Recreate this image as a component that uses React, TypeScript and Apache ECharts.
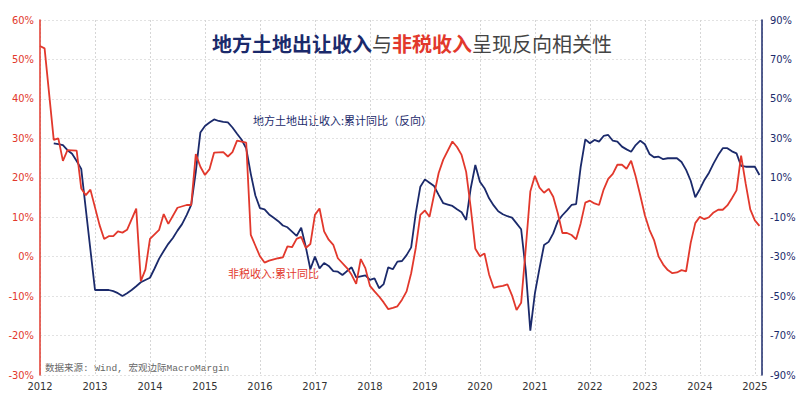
import React, { useEffect, useRef } from "react";
import * as echarts from "echarts";

// 非税收入：累计同比 (left axis, %)
const redMonths = [
  "2012-01","2012-02","2012-04","2012-05","2012-06","2012-07","2012-09","2012-10","2012-11","2012-12",
  "2013-02","2013-03","2013-04","2013-05","2013-06","2013-07","2013-08","2013-10","2013-11","2013-12",
  "2014-01","2014-03","2014-04","2014-05","2014-07","2014-09","2014-10","2014-11","2014-12",
  "2015-01","2015-02","2015-03","2015-05","2015-06","2015-07","2015-08","2015-10","2015-11",
  "2016-01","2016-02","2016-03","2016-05","2016-06","2016-07","2016-08","2016-09","2016-10","2016-11","2016-12",
  "2017-01","2017-02","2017-03","2017-04","2017-05","2017-06","2017-08","2017-09","2017-10","2017-11","2017-12",
  "2018-01","2018-02","2018-03","2018-04","2018-05","2018-06","2018-07","2018-08","2018-09","2018-10","2018-11","2018-12",
  "2019-01","2019-02","2019-03","2019-04","2019-05","2019-07","2019-08","2019-09","2019-10","2019-11","2019-12",
  "2020-01","2020-02","2020-03","2020-04","2020-05","2020-06","2020-07","2020-08","2020-09","2020-10","2020-11","2020-12",
  "2021-01","2021-02","2021-03","2021-04","2021-05","2021-06","2021-07","2021-08","2021-09","2021-10","2021-11","2021-12",
  "2022-01","2022-02","2022-03","2022-04","2022-05","2022-06","2022-07","2022-08","2022-09","2022-10","2022-11","2022-12",
  "2023-01","2023-02","2023-03","2023-04","2023-05","2023-06","2023-07","2023-08","2023-09","2023-10","2023-11","2023-12",
  "2024-01","2024-02","2024-03","2024-04","2024-05","2024-06","2024-07","2024-08","2024-09","2024-10","2024-11","2024-12",
  "2025-01","2025-02",
];
const redValues = [
  53.4, 52.8, 29.6, 30.0, 24.3, 27.0, 26.9, 17.3, 15.6, 17.0,
  8.0, 4.5, 5.2, 5.2, 6.4, 6.1, 6.8, 12.2, -6.2, -3.3,
  4.5, 6.8, 10.8, 8.3, 12.4, 13.1, 13.1, 26.0, 22.8,
  20.7, 22.2, 26.4, 26.5, 25.4, 26.5, 29.4, 28.9, 5.5,
  0.1, -1.5, -1.0, -0.4, -0.2, 2.6, 2.4, 4.5, 5.0, 2.2, 3.2,
  10.6, 12.2, 6.4, 4.3, 3.0, -0.4, -2.9, -4.6, -6.9, -0.6, -2.9,
  -7.4, -8.8, -10.1, -11.6, -13.3, -13.0, -12.6, -10.9, -8.8, -4.2, 2.2, 10.6,
  11.7, 10.1, 15.7, 21.2, 24.6, 29.2, 27.8, 25.8, 21.5, 12.4, 2.0,
  0.1, 0.8, -4.5, -7.9, -7.6, -7.4, -7.0, -9.8, -13.5, -11.7, 2.0, 16.5,
  20.5, 17.5, 16.2, 17.2, 15.2, 11.0, 6.0, 6.0, 5.5, 4.4, 8.5, 13.7,
  14.2, 13.5, 13.1, 17.0, 19.7, 21.0, 23.3, 23.3, 22.3, 24.3, 20.3, 15.5,
  10.5, 6.8, 4.2, 0.0, -2.0, -3.4, -4.2, -4.0, -3.4, -3.7, 3.5, 8.5,
  10.1, 9.5, 10.0, 11.2, 11.9, 11.9, 13.0, 14.8, 16.8, 25.6, 18.5, 12.0,
  9.2, 7.8,
];

// 地方土地出让收入：累计同比（反向） (right axis, %)
const navyMonths = [
  "2012-04","2012-05","2012-06","2012-07","2012-08","2012-09","2012-10",
  "2013-01","2013-02","2013-03","2013-04","2013-05","2013-06","2013-07","2013-08","2013-09","2013-10","2013-11","2013-12",
  "2014-01","2014-02","2014-03","2014-04","2014-05","2014-06","2014-07","2014-08","2014-09","2014-10","2014-11","2014-12",
  "2015-01","2015-02","2015-03","2015-04","2015-05","2015-06","2015-07","2015-08","2015-09","2015-10","2015-11","2015-12",
  "2016-01","2016-02","2016-03","2016-04","2016-05","2016-06","2016-07","2016-08","2016-09","2016-10","2016-11","2016-12",
  "2017-01","2017-02","2017-03","2017-04","2017-05","2017-06","2017-07","2017-08","2017-09","2017-10","2017-11","2017-12",
  "2018-01","2018-02","2018-03","2018-04","2018-05","2018-06","2018-07","2018-08","2018-09","2018-10","2018-11","2018-12",
  "2019-01","2019-02","2019-03","2019-04","2019-05","2019-06","2019-07","2019-08","2019-09","2019-10","2019-11","2019-12",
  "2020-01","2020-02","2020-03","2020-04","2020-05","2020-06","2020-07","2020-08","2020-09","2020-10","2020-11","2020-12",
  "2021-01","2021-02","2021-03","2021-04","2021-05","2021-06","2021-07","2021-08","2021-09","2021-10","2021-11","2021-12",
  "2022-01","2022-02","2022-03","2022-04","2022-05","2022-06","2022-07","2022-08","2022-09","2022-10","2022-11","2022-12",
  "2023-01","2023-02","2023-03","2023-04","2023-05","2023-06","2023-07","2023-08","2023-09","2023-10","2023-11","2023-12",
  "2024-01","2024-02","2024-03","2024-04","2024-05","2024-06","2024-07","2024-08","2024-09","2024-10","2024-11","2024-12",
  "2025-01","2025-02",
];
const navyValues = [
  27.5, 27.1, 26.5, 24.0, 22.2, 18.5, 14.5,
  -46.9, -46.9, -46.9, -46.9, -47.5, -48.5, -49.9, -48.5, -46.9, -45.0, -43.0, -41.8,
  -40.7, -36.0, -31.0, -27.1, -23.5, -20.5, -16.8, -13.5, -8.9, -3.8, 13.0, 33.0,
  36.3, 38.0, 39.6, 38.8, 38.3, 38.1, 35.5, 32.3, 29.3, 24.9, 12.0, 1.0,
  -5.4, -6.0, -8.6, -10.3, -12.0, -14.2, -15.1, -17.3, -19.5, -15.3, -25.0, -36.4,
  -30.0, -35.9, -33.2, -34.7, -37.3, -37.6, -39.3, -37.3, -35.4, -40.5, -40.0, -39.5,
  -41.8, -41.0, -46.0, -43.9, -35.4, -36.4, -32.5, -32.2, -29.2, -25.3, -8.0, 5.5,
  9.2, 7.5, 5.8, 1.3, -2.9, -3.6, -4.3, -6.0, -7.5, -11.4, 4.7, 16.5,
  8.0, 4.7, -0.4, -4.0, -7.0, -8.5, -9.5, -10.2, -13.1, -16.1, -36.8, -67.5,
  -48.6, -35.9, -24.1, -22.5, -18.2, -12.0, -9.0, -6.5, -3.8, -3.3, 15.6, 29.5,
  27.5, 29.2, 28.3, 31.2, 31.7, 28.8, 28.3, 25.8, 24.4, 23.2, 26.6, 28.8,
  27.0, 22.1, 20.4, 20.7, 19.4, 19.9, 19.9, 19.9, 18.0, 14.0, 8.5, 0.1,
  4.2, 8.9, 12.6, 17.3, 21.5, 25.0, 25.0, 23.4, 22.4, 16.0, 15.6, 15.6,
  15.6, 11.4,
];

const yearTicks = [2012, 2013, 2014, 2015, 2016, 2017, 2018, 2019, 2020, 2021, 2022, 2023, 2024, 2025];

const NAVY = "#1b2a6b";
const RED = "#e2382c";

const toX = (m: string) => {
  const [y, mo] = m.split("-").map(Number);
  return y + (mo - 1) / 12;
};

export default function App() {
  const ref = useRef<HTMLDivElement>(null);
  useEffect(() => {
    document.body.style.margin = "0";
    if (!ref.current) return;
    const chart = echarts.init(ref.current, undefined, { renderer: "svg" });
    const narrow = "'Liberation Sans Narrow', 'DejaVu Sans Condensed', Arial, sans-serif";
    const cjk = "'Noto Sans CJK SC', sans-serif";
    const mono = "'Liberation Mono', 'Noto Sans CJK SC', monospace";
    chart.setOption({
      animation: false,
      backgroundColor: "#ffffff",
      title: {
        text: "{a|地方土地出让收入}{b|与}{c|非税收入}{b|呈现反向相关性}",
        left: 207,
        top: 28,
        textStyle: {
          rich: {
            a: { color: NAVY, fontSize: 20, fontWeight: "bold", fontFamily: cjk },
            b: { color: "#444444", fontSize: 20, fontWeight: "normal", fontFamily: cjk },
            c: { color: RED, fontSize: 20, fontWeight: "bold", fontFamily: cjk },
          },
        },
      },
      grid: { left: 40, right: 38, top: 20, bottom: 24, containLabel: false },
      xAxis: {
        type: "value",
        min: 2012,
        max: 2025.13,
        interval: 1,
        axisLine: { show: false },
        axisTick: { show: false },
        axisLabel: {
          color: "#333333",
          fontSize: 11,
          fontFamily: narrow,
          margin: 6,
          showMaxLabel: false,
          formatter: (v: number) => (yearTicks.includes(Math.round(v * 1000) / 1000) ? String(v) : ""),
        },
        splitLine: { show: true, lineStyle: { color: "#d6d6d6", type: [2, 2], width: 1 } },
      },
      yAxis: [
        {
          type: "value",
          min: -30,
          max: 60,
          interval: 10,
          position: "left",
          axisLine: { show: true, lineStyle: { color: RED, width: 1.5 } },
          axisTick: { show: false },
          axisLabel: { color: RED, fontSize: 11, fontFamily: narrow, formatter: "{value}%", margin: 6 },
          splitLine: { show: true, lineStyle: { color: "#e2e2e2", type: [2, 2], width: 1 } },
        },
        {
          type: "value",
          min: -90,
          max: 90,
          interval: 20,
          position: "right",
          axisLine: { show: true, lineStyle: { color: NAVY, width: 1.5 } },
          axisTick: { show: false },
          axisLabel: { color: NAVY, fontSize: 11, fontFamily: narrow, formatter: "{value}%", margin: 8 },
          splitLine: { show: false },
        },
      ],
      series: [
        {
          name: "地方土地出让收入:累计同比（反向）",
          type: "line",
          yAxisIndex: 1,
          showSymbol: false,
          symbol: "none",
          lineStyle: { color: NAVY, width: 1.8 },
          data: navyMonths.map((m, i) => [toX(m), navyValues[i]]),
        },
        {
          name: "非税收入:累计同比",
          type: "line",
          yAxisIndex: 0,
          showSymbol: false,
          symbol: "none",
          lineStyle: { color: RED, width: 1.8 },
          data: redMonths.map((m, i) => [toX(m), redValues[i]]),
        },
      ],
      graphic: [
        {
          type: "text",
          left: 253,
          top: 114,
          style: { text: "地方土地出让收入:累计同比（反向）", fill: NAVY, fontSize: 11, fontFamily: cjk },
        },
        {
          type: "text",
          left: 228,
          top: 267,
          style: { text: "非税收入:累计同比", fill: RED, fontSize: 11, fontFamily: cjk },
        },
        {
          type: "text",
          left: 45,
          top: 364,
          style: { text: "数据来源: Wind, 宏观边际MacroMargin", fill: "#666666", fontSize: 9.5, fontFamily: mono },
        },
      ],
    });
    return () => chart.dispose();
  }, []);
  return <div ref={ref} style={{ width: 800, height: 399 }} />;
}
